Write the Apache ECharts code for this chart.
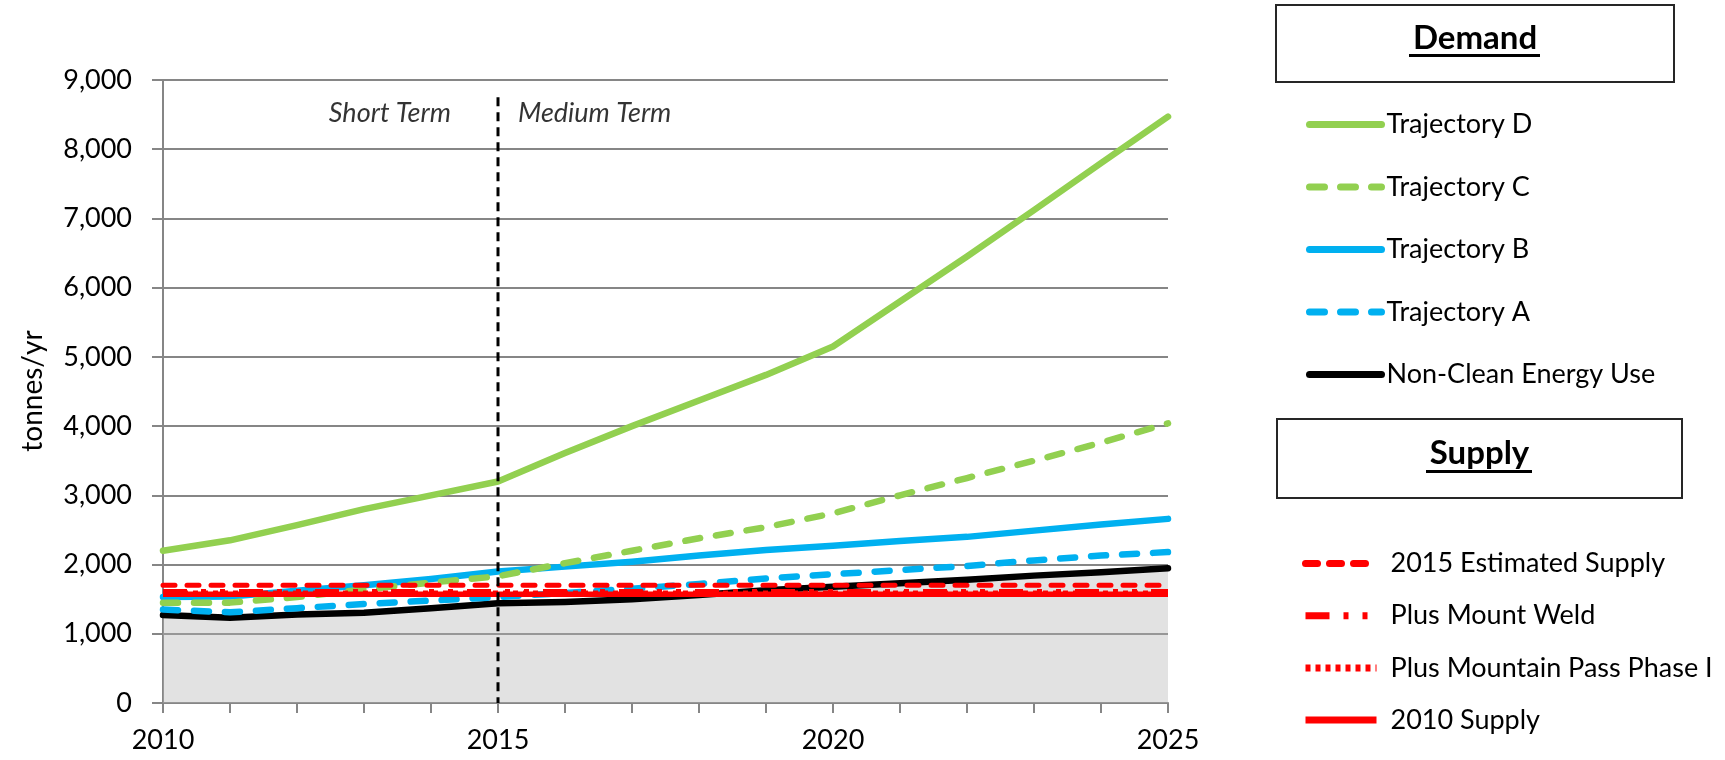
<!DOCTYPE html>
<html>
<head>
<meta charset="utf-8">
<script src="https://cdn.jsdelivr.net/npm/echarts@6/dist/echarts.min.js"></script>
<style>
  html, body { margin: 0; padding: 0; background: #ffffff; }
  #chart { width: 1725px; height: 760px; }
</style>
</head>
<body>
<div id="chart"></div>
<script>
// Years on the horizontal axis
const years = ['2010','2011','2012','2013','2014','2015','2016','2017','2018','2019','2020','2021','2022','2023','2024','2025'];

// Demand trajectories (tonnes/yr)
const trajectoryD = [2200, 2350, 2570, 2800, 3000, 3200, 3610, 4000, 4370, 4740, 5150, 5800, 6450, 7120, 7800, 8470];
const trajectoryC = [1450, 1450, 1530, 1640, 1740, 1830, 2020, 2200, 2380, 2540, 2740, 3000, 3250, 3500, 3760, 4040];
const trajectoryB = [1530, 1540, 1620, 1700, 1790, 1900, 1970, 2040, 2130, 2210, 2270, 2340, 2400, 2490, 2580, 2660];
const trajectoryA = [1350, 1310, 1370, 1430, 1480, 1530, 1590, 1650, 1720, 1800, 1860, 1920, 1980, 2060, 2130, 2180];
const nonCleanUse = [1270, 1230, 1280, 1305, 1370, 1440, 1460, 1500, 1560, 1630, 1680, 1730, 1780, 1840, 1890, 1946];

// Supply levels (tonnes/yr), flat across the period
const supply2015Est    = years.map(() => 1700);
const plusMountWeld    = years.map(() => 1610);
const plusMountainPass = years.map(() => 1590);
const supply2010       = years.map(() => 1570);

// Short/medium term boundary
const boundaryYear = '2015';
const boundaryTop = 8750;
const termLabelLevel = 8520;

// Y axis ticks
const yMin = 0, yMax = 9000, yStep = 1000;

const demandNames = ['Trajectory D', 'Trajectory C', 'Trajectory B', 'Trajectory A', 'Non-Clean Energy Use'];
const supplyNames = ['2015 Estimated Supply', 'Plus Mount Weld', 'Plus Mountain Pass Phase I', '2010 Supply'];

const FONT = 'Lato';
const GREEN = '#92D050', BLUE = '#00B0F0', RED = '#FF0000', AXIS_GRAY = '#868686';

function lineSeries(name, data, color, width, dash, cap, extra) {
  return Object.assign({
    name: name,
    type: 'line',
    data: data,
    symbol: 'none',
    smooth: false,
    lineStyle: { color: color, width: width, type: dash || 'solid', cap: cap || 'round', join: 'round' },
    itemStyle: { color: color },
    emphasis: { disabled: true }
  }, extra || {});
}

const chart = echarts.init(document.getElementById('chart'), null, { renderer: 'canvas' });

const legendCommon = {
  orient: 'vertical',
  padding: 0,
  itemHeight: 14,
  lineStyle: { width: 7 },
  itemStyle: { opacity: 0 },
  selectedMode: false
};

const option = {
  animation: false,
  backgroundColor: '#ffffff',
  textStyle: { fontFamily: FONT },
  grid: { left: 163, right: 557, top: 80, bottom: 57, outerBoundsMode: 'none' },
  xAxis: {
    type: 'category',
    data: years,
    boundaryGap: false,
    axisLine: { show: true, lineStyle: { color: AXIS_GRAY, width: 2 } },
    axisTick: { show: true, interval: 0, length: 10, lineStyle: { color: AXIS_GRAY, width: 2 } },
    axisLabel: { interval: 4, margin: 24, fontSize: 27, color: '#000', fontFamily: FONT },
    splitLine: { show: false }
  },
  yAxis: {
    type: 'value',
    min: yMin, max: yMax, interval: yStep,
    axisLine: { show: true, lineStyle: { color: AXIS_GRAY, width: 2 } },
    axisTick: { show: true, length: 11, lineStyle: { color: AXIS_GRAY, width: 2 } },
    axisLabel: {
      margin: 31, fontSize: 27, color: '#000', fontFamily: FONT,
      formatter: v => String(v).replace(/\B(?=(\d{3})+(?!\d))/g, ',')
    },
    splitLine: { show: true, lineStyle: { color: AXIS_GRAY, width: 2 } }
  },
  legend: [
    Object.assign({}, legendCommon, {
      data: demandNames,
      left: 1306, top: 111,
      itemWidth: 72, itemGap: 35.5,
      textStyle: { fontSize: 27, color: '#000', fontFamily: FONT }
    }),
    Object.assign({}, legendCommon, {
      data: supplyNames,
      left: 1302, top: 550,
      itemWidth: 71, itemGap: 25.2,
      textStyle: { fontSize: 27, color: '#000', fontFamily: FONT, padding: [0, 0, 0, 9] }
    })
  ],
  series: [
    lineSeries('Non-Clean Energy Use', nonCleanUse, '#000000', 6.5, 'solid', 'round', {
      areaStyle: { color: 'rgba(180,180,180,0.55)', origin: 'start' }
    }),
    lineSeries('Trajectory A', trajectoryA, BLUE, 6.5, [15, 16], 'round'),
    lineSeries('Trajectory B', trajectoryB, BLUE, 6.5, 'solid', 'round'),
    lineSeries('Trajectory C', trajectoryC, GREEN, 6.5, [15, 16], 'round'),
    lineSeries('Trajectory D', trajectoryD, GREEN, 6.5, 'solid', 'round'),
    lineSeries('2010 Supply', supply2010, RED, 5.5, 'solid', 'butt'),
    lineSeries('Plus Mountain Pass Phase I', plusMountainPass, RED, 5, [5, 5], 'butt'),
    lineSeries('Plus Mount Weld', plusMountWeld, RED, 5, [24, 14, 5, 14, 5, 14], 'butt'),
    lineSeries('2015 Estimated Supply', supply2015Est, RED, 5, [12, 12], 'round'),
    // Dashed divider between the short and medium term
    {
      name: 'term-divider',
      type: 'line',
      data: [[boundaryYear, boundaryTop], [boundaryYear, yMin]],
      symbol: 'none',
      lineStyle: { color: '#000000', width: 3, type: [9, 6] },
      emphasis: { disabled: true },
      z: 3
    },
    // Period captions either side of the divider
    {
      name: 'term-labels',
      type: 'scatter',
      symbolSize: 0,
      silent: true,
      data: [
        { value: [boundaryYear, termLabelLevel], label: { formatter: 'Short Term', position: 'left', distance: 47 } },
        { value: [boundaryYear, termLabelLevel], label: { formatter: 'Medium Term', position: 'right', distance: 20 } }
      ],
      label: { show: true, fontSize: 27, fontStyle: 'italic', color: '#000', fontFamily: FONT },
      z: 3
    }
  ],
  graphic: [
    // Y axis title
    { type: 'text', x: 33, y: 391, rotation: Math.PI / 2,
      style: { text: 'tonnes/yr', fontSize: 28, fontFamily: FONT, fill: '#000',
               align: 'center', verticalAlign: 'middle' } },
    // Legend group headers
    { type: 'rect', shape: { x: 1276, y: 5, width: 398, height: 77 },
      style: { fill: '#ffffff', stroke: '#262626', lineWidth: 2 } },
    { type: 'text', x: 1475, y: 38.5,
      style: { text: 'Demand', fontSize: 33, fontWeight: 'bold', fontFamily: FONT, fill: '#000',
               align: 'center', verticalAlign: 'middle' } },
    { type: 'line', shape: { x1: 1409, y1: 55.5, x2: 1540, y2: 55.5 },
      style: { stroke: '#000', lineWidth: 3 } },
    { type: 'rect', shape: { x: 1277, y: 419, width: 405, height: 79 },
      style: { fill: '#ffffff', stroke: '#262626', lineWidth: 2 } },
    { type: 'text', x: 1479.5, y: 453,
      style: { text: 'Supply', fontSize: 33, fontWeight: 'bold', fontFamily: FONT, fill: '#000',
               align: 'center', verticalAlign: 'middle' } },
    { type: 'line', shape: { x1: 1426, y1: 471.5, x2: 1532, y2: 471.5 },
      style: { stroke: '#000', lineWidth: 3 } }
  ]
};

chart.setOption(option);
</script>
</body>
</html>
